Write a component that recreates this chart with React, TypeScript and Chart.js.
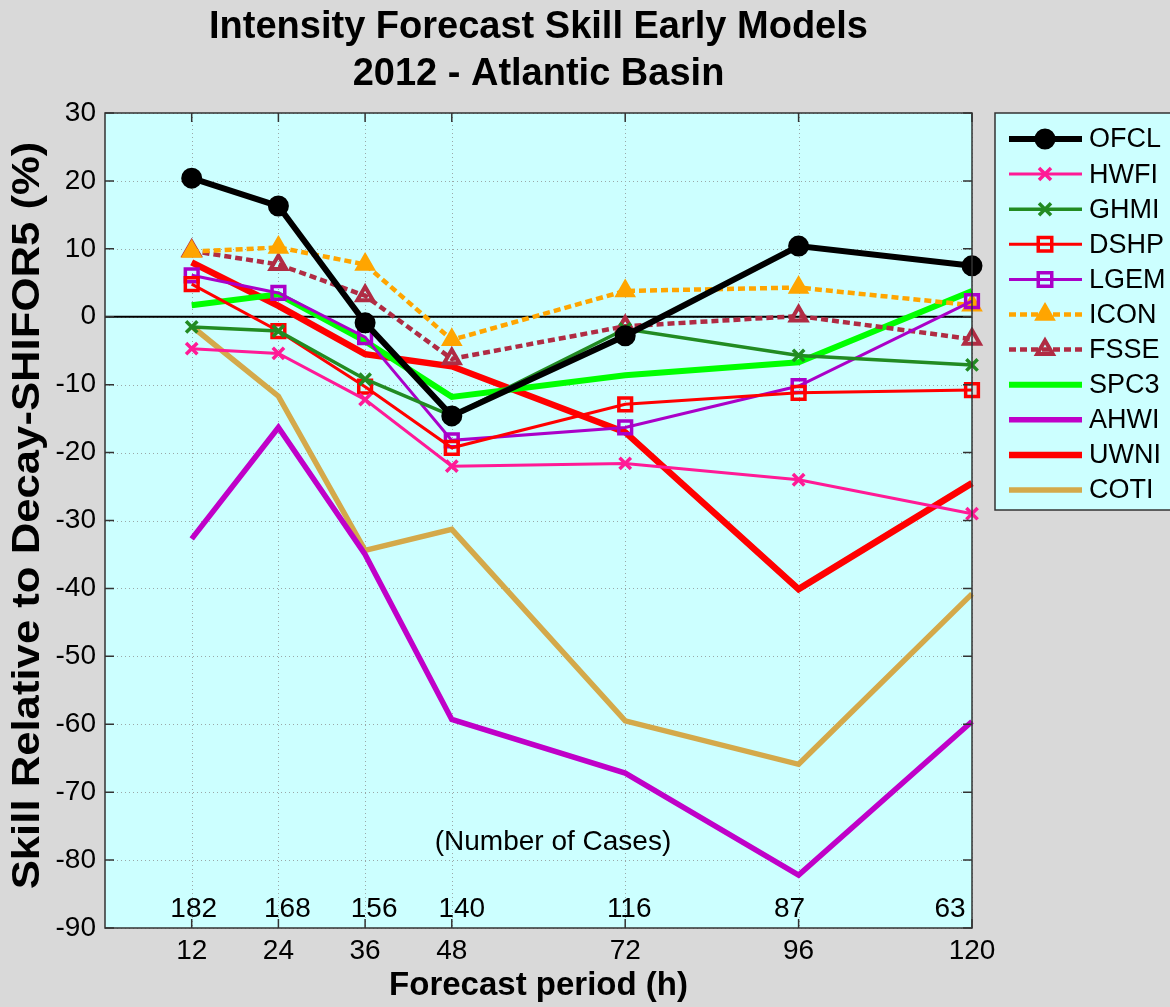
import React, { useEffect, useRef } from "react";
import { Chart, registerables } from "chart.js";

Chart.register(...registerables);

const hours = [12, 24, 36, 48, 72, 96, 120];
const cases = [182, 168, 156, 140, 116, 87, 63];

const OFCL = [20.4, 16.3, -0.9, -14.6, -2.8, 10.4, 7.5];
const HWFI = [-4.7, -5.4, -12.2, -22.0, -21.6, -24.0, -29.0];
const GHMI = [-1.5, -2.1, -9.2, -14.6, -1.8, -5.7, -7.1];
const DSHP = [4.8, -2.1, -10.3, -19.3, -12.9, -11.2, -10.8];
const LGEM = [6.1, 3.5, -3.0, -18.2, -16.3, -10.2, 2.3];
const ICON = [9.6, 10.2, 7.7, -3.4, 3.8, 4.3, 1.7];
const FSSE = [9.7, 7.7, 3.1, -6.2, -1.4, 0.1, -3.3];
const SPC3 = [1.7, 3.3, -3.6, -11.8, -8.6, -6.7, 3.8];
const AHWI = [-32.7, -16.3, -35.0, -59.3, -67.2, -82.2, -59.6];
const UWNI = [8.0, 1.6, -5.5, -7.3, -17.0, -40.1, -24.5];
const COTI = [-1.4, -11.7, -34.4, -31.3, -59.5, -65.9, -40.8];

const titleLines = ["Intensity Forecast Skill Early Models", "2012 - Atlantic Basin"];
const xTitle = "Forecast period (h)";
const yTitle = "Skill Relative to Decay-SHIFOR5 (%)";
const casesTitle = "(Number of Cases)";

const FONT = "'Liberation Sans', Arial, Helvetica, sans-serif";
const PLOT_BG = "#ccffff";
const PAGE_BG = "#d9d9d9";

type SeriesDef = {
  label: string;
  values: number[];
  color: string;
  width: number;
  dash: number[];
  marker: string | false;
  radius: number;
  markerWidth: number;
  filled: boolean;
};

const series: SeriesDef[] = [
  { label: "OFCL", values: OFCL, color: "#000000", width: 6, dash: [], marker: "circle", radius: 8.5, markerWidth: 4, filled: true },
  { label: "HWFI", values: HWFI, color: "#ff1a96", width: 3, dash: [], marker: "crossRot", radius: 8, markerWidth: 3.5, filled: false },
  { label: "GHMI", values: GHMI, color: "#228b22", width: 3.5, dash: [], marker: "crossRot", radius: 8, markerWidth: 3.5, filled: false },
  { label: "DSHP", values: DSHP, color: "#ff0000", width: 3, dash: [], marker: "rect", radius: 9, markerWidth: 3.5, filled: false },
  { label: "LGEM", values: LGEM, color: "#aa00c8", width: 3, dash: [], marker: "rect", radius: 9, markerWidth: 3.5, filled: false },
  { label: "ICON", values: ICON, color: "#ffa500", width: 4.5, dash: [7, 4], marker: "triangle", radius: 9, markerWidth: 3.5, filled: true },
  { label: "FSSE", values: FSSE, color: "#b02c44", width: 4.5, dash: [7, 4], marker: "triangle", radius: 9, markerWidth: 4, filled: false },
  { label: "SPC3", values: SPC3, color: "#00ff00", width: 6, dash: [], marker: false, radius: 0, markerWidth: 0, filled: false },
  { label: "AHWI", values: AHWI, color: "#c000c8", width: 5.5, dash: [], marker: false, radius: 0, markerWidth: 0, filled: false },
  { label: "UWNI", values: UWNI, color: "#ff0000", width: 6.5, dash: [], marker: false, radius: 0, markerWidth: 0, filled: false },
  { label: "COTI", values: COTI, color: "#d4a94a", width: 5.5, dash: [], marker: false, radius: 0, markerWidth: 0, filled: false },
];

function drawMarker(ctx: CanvasRenderingContext2D, s: SeriesDef, x: number, y: number) {
  if (!s.marker) return;
  const r = s.radius;
  ctx.save();
  ctx.setLineDash([]);
  ctx.strokeStyle = s.color;
  ctx.fillStyle = s.color;
  ctx.lineWidth = s.markerWidth;
  ctx.beginPath();
  if (s.marker === "circle") {
    ctx.arc(x, y, r, 0, Math.PI * 2);
  } else if (s.marker === "crossRot") {
    const d = r * 0.75;
    ctx.moveTo(x - d, y - d);
    ctx.lineTo(x + d, y + d);
    ctx.moveTo(x + d, y - d);
    ctx.lineTo(x - d, y + d);
  } else if (s.marker === "rect") {
    const d = r * 0.75;
    ctx.rect(x - d, y - d, 2 * d, 2 * d);
  } else if (s.marker === "triangle") {
    ctx.moveTo(x, y - r);
    ctx.lineTo(x + r * 0.87, y + r * 0.5);
    ctx.lineTo(x - r * 0.87, y + r * 0.5);
    ctx.closePath();
  }
  if (s.filled) ctx.fill();
  ctx.stroke();
  ctx.restore();
}

const caseLabelShift = [2, 9, 9, 10, 4, -9, -22];

const matlabPlugin = {
  id: "matlabStyle",
  beforeDraw(chart: any) {
    const { ctx, chartArea: a } = chart;
    ctx.save();
    ctx.fillStyle = PAGE_BG;
    ctx.fillRect(0, 0, chart.width, chart.height);
    ctx.fillStyle = PLOT_BG;
    ctx.fillRect(a.left, a.top, a.right - a.left, a.bottom - a.top);
    ctx.restore();
  },
  beforeDatasetsDraw(chart: any) {
    const { ctx, chartArea: a, scales } = chart;
    const xs = scales.x;
    const ys = scales.y;
    ctx.save();
    ctx.strokeStyle = "#9aa8a8";
    ctx.lineWidth = 1;
    ctx.setLineDash([1, 3]);
    for (const h of hours) {
      const px = Math.round(xs.getPixelForValue(h)) + 0.5;
      ctx.beginPath();
      ctx.moveTo(px, a.top);
      ctx.lineTo(px, a.bottom);
      ctx.stroke();
    }
    for (const t of ys.ticks) {
      const py = Math.round(ys.getPixelForValue(t.value)) + 0.5;
      ctx.beginPath();
      ctx.moveTo(a.left, py);
      ctx.lineTo(a.right, py);
      ctx.stroke();
    }
    ctx.setLineDash([]);
    ctx.strokeStyle = "#000";
    ctx.lineWidth = 2;
    const zy = ys.getPixelForValue(0);
    ctx.beginPath();
    ctx.moveTo(a.left, zy);
    ctx.lineTo(a.right, zy);
    ctx.stroke();
    ctx.restore();
  },
  afterDatasetsDraw(chart: any) {
    const { ctx, chartArea: a, scales } = chart;
    const xs = scales.x;
    const ys = scales.y;
    ctx.save();
    ctx.strokeStyle = "#333";
    ctx.lineWidth = 1.5;
    ctx.strokeRect(a.left, a.top, a.right - a.left, a.bottom - a.top);
    const tl = 9;
    ctx.beginPath();
    for (const h of hours) {
      const px = xs.getPixelForValue(h);
      ctx.moveTo(px, a.bottom);
      ctx.lineTo(px, a.bottom - tl);
      ctx.moveTo(px, a.top);
      ctx.lineTo(px, a.top + tl);
    }
    for (const t of ys.ticks) {
      const py = ys.getPixelForValue(t.value);
      ctx.moveTo(a.left, py);
      ctx.lineTo(a.left + tl, py);
      ctx.moveTo(a.right, py);
      ctx.lineTo(a.right - tl, py);
    }
    ctx.stroke();

    ctx.fillStyle = "#000";
    ctx.font = `28px ${FONT}`;
    ctx.textBaseline = "middle";
    ctx.textAlign = "center";
    const cy = ys.getPixelForValue(-87.2);
    cases.forEach((c, i) => {
      const px = xs.getPixelForValue(hours[i]);
      ctx.fillText(String(c), px + caseLabelShift[i], cy);
    });
    ctx.fillText(casesTitle, xs.getPixelForValue(62), ys.getPixelForValue(-77.4));
    ctx.restore();
  },
  afterDraw(chart: any) {
    const { ctx, chartArea: a } = chart;
    ctx.save();
    ctx.fillStyle = "#000";
    ctx.textAlign = "center";
    ctx.textBaseline = "middle";
    const cx = (a.left + a.right) / 2;
    ctx.font = `bold 38px ${FONT}`;
    ctx.fillText(titleLines[0], cx, 28);
    ctx.fillText(titleLines[1], cx, 75);
    ctx.font = `bold 33px ${FONT}`;
    ctx.fillText(xTitle, cx, 986);
    ctx.save();
    ctx.translate(28, (a.top + a.bottom) / 2 - 5);
    ctx.rotate(-Math.PI / 2);
    ctx.scale(1.12, 1);
    ctx.font = `bold 39px ${FONT}`;
    ctx.fillText(yTitle, 0, 0);
    ctx.restore();

    // legend
    const lx = 995, ly = 113, lw = 190, lh = 397;
    ctx.fillStyle = PLOT_BG;
    ctx.fillRect(lx, ly, lw, lh);
    ctx.strokeStyle = "#333";
    ctx.lineWidth = 1.5;
    ctx.strokeRect(lx, ly, lw, lh);
    const rowH = 35.1;
    series.forEach((s, i) => {
      const y = 139 + i * rowH;
      ctx.save();
      ctx.strokeStyle = s.color;
      ctx.lineWidth = s.width;
      ctx.setLineDash(s.dash);
      ctx.beginPath();
      ctx.moveTo(1009, y);
      ctx.lineTo(1082, y);
      ctx.stroke();
      ctx.restore();
      drawMarker(ctx, s, 1045, y);
      ctx.fillStyle = "#000";
      ctx.textAlign = "left";
      ctx.textBaseline = "middle";
      ctx.font = `27px ${FONT}`;
      ctx.fillText(s.label, 1089, y + 1);
    });
    ctx.restore();
  },
};

export default function App() {
  const ref = useRef<HTMLCanvasElement | null>(null);
  useEffect(() => {
    if (!ref.current) return;
    const datasets = series.map((s) => ({
      label: s.label,
      data: hours.map((h, i) => ({ x: h, y: s.values[i] })),
      borderColor: s.color,
      backgroundColor: s.color,
      borderWidth: s.width,
      borderDash: s.dash,
      tension: 0,
      fill: false,
      clip: false as const,
      pointStyle: s.marker || "circle",
      pointRadius: s.marker ? s.radius : 0,
      pointHoverRadius: s.marker ? s.radius : 0,
      pointBorderWidth: s.markerWidth,
      pointBorderColor: s.color,
      pointBackgroundColor: s.filled ? s.color : "rgba(0,0,0,0)",
    }));
    const chart = new Chart(ref.current, {
      type: "line",
      data: { datasets },
      plugins: [matlabPlugin],
      options: {
        animation: false,
        responsive: false,
        devicePixelRatio: 1,
        events: [],
        layout: { padding: { top: 113, right: 198, left: 0, bottom: 0 } },
        plugins: { legend: { display: false }, title: { display: false }, tooltip: { enabled: false } },
        scales: {
          x: {
            type: "linear",
            min: 0,
            max: 120,
            afterBuildTicks: (scale: any) => {
              scale.ticks = hours.map((h) => ({ value: h }));
            },
            afterFit: (scale: any) => {
              scale.height = 79;
            },
            grid: { display: false, drawTicks: false },
            border: { display: false },
            ticks: { color: "#000", font: { family: FONT, size: 28 }, padding: 6, maxRotation: 0, autoSkip: false },
          },
          y: {
            type: "linear",
            min: -90,
            max: 30,
            afterFit: (scale: any) => {
              scale.width = 105;
            },
            grid: { display: false, drawTicks: false },
            border: { display: false },
            ticks: { stepSize: 10, color: "#000", font: { family: FONT, size: 28 }, padding: 9 },
          },
        },
      },
    });
    return () => chart.destroy();
  }, []);
  return (
    <div style={{ position: "absolute", left: 0, top: 0, width: 1170, height: 1007 }}>
      <canvas ref={ref} width={1170} height={1007} style={{ display: "block" }} />
    </div>
  );
}
